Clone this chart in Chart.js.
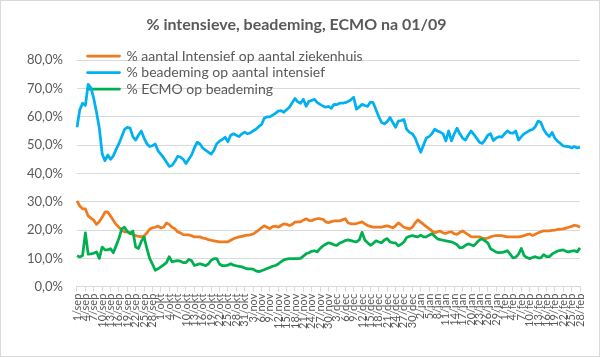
<!DOCTYPE html>
<html><head><meta charset="utf-8">
<script src="https://cdn.jsdelivr.net/npm/chart.js@4"></script>
<style>
html,body{margin:0;padding:0;background:#fff;}
#wrap{position:absolute;left:0;top:0;width:600px;height:357px;box-sizing:border-box;border:1px solid #d9d9d9;background:#fff;}
canvas{display:block;}
</style></head><body>
<div id="wrap"><canvas id="c" width="598" height="355"></canvas></div>
<script>
const months = ['sep','okt','nov','dec','jan','feb'];
const monthDays = [30,31,30,31,31,28];
const categories = [];
months.forEach((m, i) => { for (let d = 1; d <= monthDays[i]; d++) categories.push(d + '/' + m); });

const seriesNames = ['% aantal Intensief op aantal ziekenhuis', '% beademing op aantal intensief', '% ECMO op beademing'];

const intensief = [
30.3,28.5,27.5,27.5,25,24.2,23.5,22,23,24.5,
26.3,26.4,25,23.5,22,21,20,19.4,19.4,19,
18.4,18,17.8,17.6,17.9,19,20.3,20.8,21,21.4,
20.8,21,22.5,22,21,20.5,19.4,19,18.4,18.3,
18.3,18,17.6,17.6,17.6,17.2,17,16.6,16.4,16.2,
16,15.8,15.8,15.8,15.8,16.4,16.9,17.3,17.6,17.8,
18,18.2,18.3,18.6,19.3,20,20.8,21.5,21,20.5,
21.2,21.4,21,21.6,22.2,22,21.6,22,22.8,22.9,
22.9,23.5,24,23.4,23.3,23.8,24,24,23.8,22.9,
22.6,23,23.2,23.2,23.2,23.6,24,22.6,22.2,22.2,
22.3,22.6,22.9,22.2,21.6,21.3,21,21,21,21,
21.3,21.5,21.2,20.8,21.5,22.5,21.8,21,20.7,20.4,
21,22.5,23.6,22.8,22,21.2,20.5,19.7,19,19.4,
19.6,19,18.8,19.2,19.4,18.7,18.5,19.2,19.7,19,
18.4,17.7,17.6,17.6,17.6,17.2,16.9,17.2,17.6,17.9,
18,18,18,17.8,17.6,17.6,17.6,17.6,17.6,17.8,
18,18.4,18.6,18.1,18.5,19,19.4,19.7,19.7,19.7,
19.9,20,20.2,20.3,20.4,20.7,21,21.3,21.7,21.5,
21];

const beademing = [
56.3,62.5,64.8,64,71.5,70.2,66.5,61.5,56,47,
44.5,46.5,45,46.2,48.5,50.5,53,55.5,56.3,56,
53,51.8,53.5,55,52.5,50.5,49.5,49.8,50.4,48,
46.8,45.5,44,42.5,42.8,44.2,46,45.8,45,43.5,
45,46.5,49,51,50.4,49,48.2,47.5,46.8,48.2,
50.5,51.4,52,52.8,51.2,53.5,54,53.5,53,54,
54.6,54,54.3,55,55.6,56.5,57.2,59.5,60,60,
60.6,61.2,62,62.2,61.6,62.5,63.4,65,66.5,65.3,
64.8,66.2,63.7,65.5,65.8,66.2,65,64.4,63.8,63.4,
63.7,63,64.4,64.3,64.8,64.8,65,65.4,66,66.9,
62.7,63.5,64.4,64,63.7,65.2,65,62.5,60,58,
57.5,58.3,59.8,58,56.3,58.5,58.7,59,55.5,54.5,
54,52.5,50,47.5,50,52.5,53,54,55.6,55,
54.6,54,51.5,55,51.5,54,56,54,52.5,51.8,
53.5,55,53.8,52.5,51,50.6,51.8,53.5,54,51.6,
52.5,53,52.8,54,55,54.3,54.2,55,51.8,53,
54,54.6,55.2,55.5,56.5,58.5,58,55.5,54,53,
54.5,52.5,51.3,50.6,49.7,49.6,49.5,49,49.5,49,
49.3];

const ecmo = [
10.9,10.5,11,19,11.5,11.6,11.8,12.3,10,14,
13,13,13.4,12,14.5,17,20.4,21,19.5,18.7,
19.7,14,13.5,16,17.6,13.5,10,8,5.8,6.3,
7,7.7,8.5,10.6,8.8,9,9.2,9,8.5,8.5,
9.6,9.2,7.5,7.8,8.1,7.8,7.4,8,9.3,9.9,
9.9,8,7.4,7.4,7.6,8.1,7.6,7.4,7.2,7,
6.6,6.3,6.3,6.2,5.6,5.3,5.6,6,6.4,6.8,
7.2,7.5,8,8.8,9.5,9.7,9.9,9.9,9.9,9.9,
10,10.8,11.6,12,12.5,12.7,12.3,13.5,14.4,15,
15.5,15.2,14.8,14.6,15.4,15.8,16.3,16.5,16.3,16,
15.8,16.5,19.2,16.5,15.5,14.6,15.3,16.2,15.8,15.5,
16.5,17,15.8,15.5,15.5,14.4,15,15.8,17.4,17.8,
18,17.8,17.6,18.2,17.6,17.6,18.2,18.7,17.8,16.9,
16.6,16.4,16.2,16,15.8,15.4,14.8,13.7,13.9,14.6,
15.1,14.8,14.4,15.5,16.5,16.9,16.2,15.5,13.4,12.8,
12.2,12,12.1,12.3,12.7,11.5,10.2,10.4,11.5,13.5,
11,10.3,9.9,10.3,10.6,10.2,10.2,11.3,10.6,10.6,
11.5,12.1,12.6,12.8,13,12.5,12.3,12.6,12.7,12.3,
13.7];

const yTicks = [0,10,20,30,40,50,60,70,80];
const colors = ['#F07A1E', '#00B0F0', '#00B050'];
const TXT = '#595959';
const FONT = 'Lato, "Open Sans", "Liberation Sans", sans-serif';

const legendPlace = {
  id: 'legendPlace',
  afterLayout(chart) {
    const l = chart.legend;
    if (!l) return;
    const w = l.width, h = l.height;
    l.left = 84; l.top = 45.5;
    l.right = l.left + w; l.bottom = l.top + h;
  }
};

const mk = (label, data, color, order) => ({
  label, data, borderColor: color, backgroundColor: color,
  borderWidth: 2.75, pointRadius: 0, tension: 0, fill: false,
  borderJoinStyle: 'round', order
});

new Chart(document.getElementById('c'), {
  type: 'line',
  data: {
    labels: categories,
    datasets: [
      mk(seriesNames[0], intensief, colors[0], 2),
      mk(seriesNames[1], beademing, colors[1], 1),
      mk(seriesNames[2], ecmo, colors[2], 0)
    ]
  },
  options: {
    responsive: false,
    devicePixelRatio: 1,
    animation: false,
    layout: { padding: { left: 12, right: 19, top: 10, bottom: 25 } },
    plugins: {
      title: {
        display: true,
        text: '% intensieve, beademing, ECMO na 01/09',
        color: TXT,
        font: { family: FONT, size: 16, weight: 'bold' },
        padding: { top: 4, bottom: 26 }
      },
      legend: {
        position: 'chartArea',
        align: 'start',
        labels: {
          color: TXT,
          font: { family: FONT, size: 14 },
          boxWidth: 32,
          boxHeight: 0,
          padding: 2.5,
          sort: (a, b) => a.datasetIndex - b.datasetIndex
        }
      },
      tooltip: { enabled: false }
    },
    scales: {
      x: {
        offset: false,
        grid: { drawOnChartArea: false, drawTicks: true, tickLength: 5, color: '#d9d9d9' },
        border: { color: '#d9d9d9' },
        afterBuildTicks: (s) => { s.ticks = s.ticks.filter(t => t.value % 3 === 0); },
        ticks: {
          autoSkip: false, maxRotation: 90, minRotation: 90,
          color: TXT, font: { family: FONT, size: 11 }, padding: 2
        }
      },
      y: {
        min: 0, max: 80,
        afterBuildTicks: (s) => { s.ticks = yTicks.map(v => ({ value: v })); },
        grid: { color: '#d9d9d9', drawTicks: false },
        border: { display: false },
        ticks: {
          color: TXT, font: { family: FONT, size: 13 }, padding: 14,
          callback: (v) => v.toFixed(1).replace('.', ',') + '%'
        }
      }
    }
  },
  plugins: [legendPlace]
});
</script>
</body></html>
